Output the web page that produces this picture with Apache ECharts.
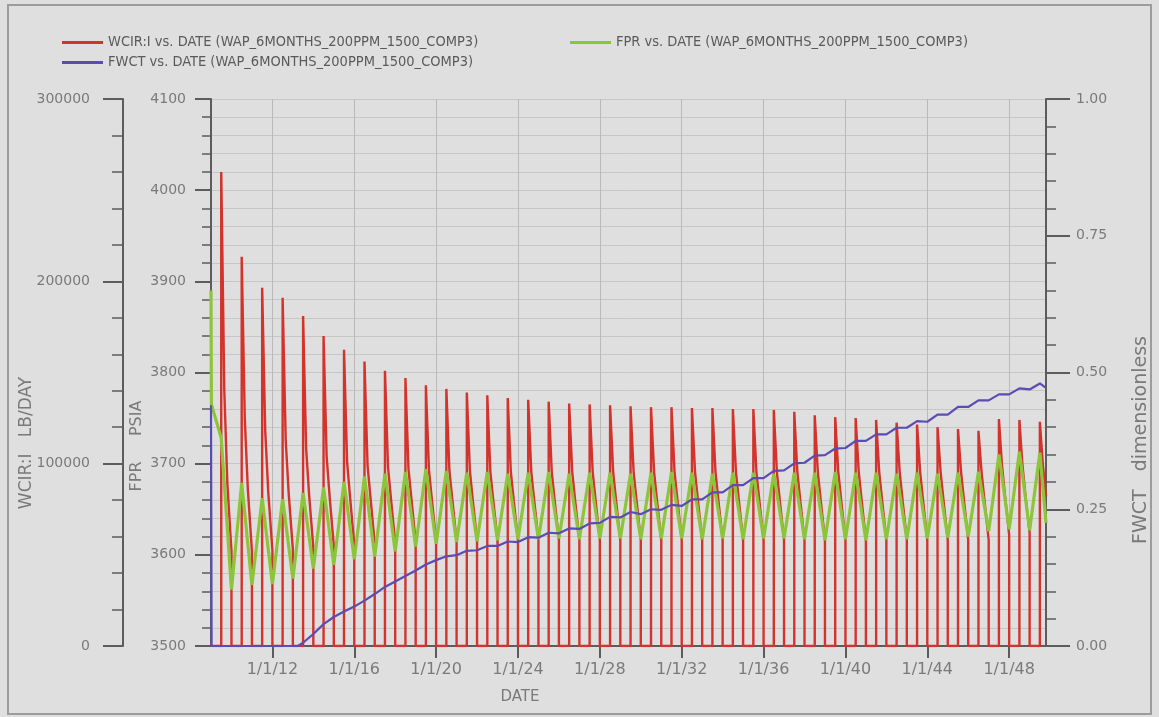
<!DOCTYPE html>
<html>
<head>
<meta charset="utf-8">
<script src="https://cdn.jsdelivr.net/npm/echarts@6/dist/echarts.min.js"></script>
<style>
html,body{margin:0;padding:0;background:#dfdfdf;}
#chart{width:1159px;height:717px;}
</style>
</head>
<body>
<div id="chart"></div>
<script>
// ---- data ----
const cycleYears = [2009,2010,2011,2012,2013,2014,2015,2016,2017,2018,2019,2020,2021,2022,2023,2024,2025,2026,2027,2028,2029,2030,2031,2032,2033,2034,2035,2036,2037,2038,2039,2040,2041,2042,2043,2044,2045,2046,2047,2048,2049];
const xEnd = 2049.8;

// WCIR:I (lb/day): at injection start (peak), 0.15 yr in, 0.3 yr in, and at shut-in (or at the end of the record)
const wcirPeak = [260000,213500,196500,191000,181000,170000,162500,156000,151000,147000,143000,141000,139000,137500,136000,135000,134000,133000,132500,132000,131500,131000,131000,130500,130500,130000,130000,129500,128500,126500,125500,125000,124000,122500,121500,120000,119000,118000,124500,124000,123000];
const wcirMid  = [140000,125000,118000,113000,108000,104000,101000,99000,98000,97000,96500,96000,96000,95500,95500,95500,95500,95500,95500,95500,95500,95500,95500,95500,95500,95500,95500,95500,95500,95500,95500,95500,95500,95500,95500,95500,95500,95500,99000,99000,99000];
const wcirKnee = [89000,86000,84000,83000,82000,81500,81000,80500,80000,80000,79500,79500,79000,79000,79000,79000,79000,79000,79000,79000,79000,79000,79000,79000,79000,79000,79000,79000,79000,79000,79000,79000,79000,79000,79000,79000,79000,79000,82000,82000,82000];
const wcirEnd  = [52000,52000,52500,53000,54000,55000,55500,56000,56500,57000,57500,57500,58000,58000,58000,58000,58000,58000,58000,58000,58000,58000,58000,58000,58000,58000,58000,58000,58000,58000,58000,58000,58000,58000,58000,58000,58000,58000,61000,62000,82000];

// FPR (psia)
const fprStart = [3890, 3765];
const fprPeak = [3728,3679,3662,3661,3668,3674,3680,3686,3689,3691,3694,3692,3690,3691,3689,3690,3691,3689,3690,3690,3689,3690,3691,3690,3689,3690,3690,3689,3690,3690,3691,3690,3690,3689,3690,3689,3690,3691,3710,3713,3712];
const fprTrough = [3562,3567,3568,3574,3585,3589,3595,3598,3604,3609,3612,3614,3615,3616,3617,3617,3618,3617,3618,3618,3617,3618,3618,3617,3618,3617,3618,3618,3617,3616,3617,3616,3617,3617,3618,3619,3620,3626,3628,3627];
const fprFinal = 3635;

// FWCT (dimensionless)
const fwctYears = [2009.0,2009.03,2013.25,2013.5,2014.0,2014.5,2015.0,2015.5,2016.0,2016.5,2017.0,2017.5,2018.0,2018.5,2019.0,2019.5,2020.0,2020.5,2021.0,2021.5,2022.0,2022.5,2023.0,2023.5,2024.0,2024.5,2025.0,2025.5,2026.0,2026.5,2027.0,2027.5,2028.0,2028.5,2029.0,2029.5,2030.0,2030.5,2031.0,2031.5,2032.0,2032.5,2033.0,2033.5,2034.0,2034.5,2035.0,2035.5,2036.0,2036.5,2037.0,2037.5,2038.0,2038.5,2039.0,2039.5,2040.0,2040.5,2041.0,2041.5,2042.0,2042.5,2043.0,2043.5,2044.0,2044.5,2045.0,2045.5,2046.0,2046.5,2047.0,2047.5,2048.0,2048.5,2049.0,2049.5,2049.8];
const fwctValues = [0.44,0,0,0.006,0.022,0.040,0.053,0.063,0.072,0.083,0.095,0.108,0.118,0.128,0.138,0.149,0.157,0.164,0.166,0.174,0.175,0.183,0.183,0.191,0.190,0.199,0.198,0.207,0.206,0.215,0.214,0.224,0.225,0.236,0.235,0.245,0.241,0.250,0.249,0.258,0.256,0.268,0.268,0.281,0.281,0.294,0.294,0.307,0.307,0.320,0.321,0.334,0.335,0.348,0.349,0.361,0.362,0.375,0.375,0.387,0.387,0.399,0.399,0.411,0.410,0.423,0.423,0.437,0.437,0.449,0.449,0.460,0.460,0.471,0.469,0.480,0.472];

const xTickYears = [2012,2016,2020,2024,2028,2032,2036,2040,2044,2048];
const xTickLabels = ['1/1/12','1/1/16','1/1/20','1/1/24','1/1/28','1/1/32','1/1/36','1/1/40','1/1/44','1/1/48'];

const nameW = 'WCIR:I vs. DATE (WAP_6MONTHS_200PPM_1500_COMP3)';
const nameF = 'FPR vs. DATE (WAP_6MONTHS_200PPM_1500_COMP3)';
const nameB = 'FWCT vs. DATE (WAP_6MONTHS_200PPM_1500_COMP3)';

// ---- build series from the arrays (6-month on / 6-month off schedule) ----
const redData = [[2009.0, 0]];
cycleYears.forEach((y, i) => {
  const on = y + 0.5, off = y + 1.0;
  redData.push([on, 0], [on, wcirPeak[i]], [on + 0.15, wcirMid[i]]);
  if (on + 0.3 < xEnd) redData.push([on + 0.3, wcirKnee[i]]);
  if (off <= xEnd) redData.push([off, wcirEnd[i]], [off, 0]);
  else redData.push([xEnd, wcirEnd[i]]);
});

const greenData = [[2009.0, fprStart[0]], [2009.02, fprStart[1]]];
cycleYears.forEach((y, i) => {
  greenData.push([y + 0.5, fprPeak[i]]);
  if (i < fprTrough.length) greenData.push([y + 1.0, fprTrough[i]]);
});
greenData.push([xEnd, fprFinal]);

const blueData = fwctYears.map((t, i) => [t, fwctValues[i]]);

// ---- styles ----
const axisColor = '#5c5c5c';
const labelColor = '#7a7a7a';
const gridColor = '#c6c6c6';
const labelFont = 'DejaVu Sans';
const legendText = {fontFamily: "'DejaVu Sans Condensed', 'Liberation Sans', sans-serif", fontSize: 14.5, color: '#5a5a5a'};

const chart = echarts.init(document.getElementById('chart'), null, {renderer: 'canvas'});
const legendBase = {
  orient: 'horizontal', itemWidth: 41, itemHeight: 3, icon: 'rect',
  padding: 0, selectedMode: false, textStyle: legendText, itemGap: 10
};

chart.setOption({
  backgroundColor: '#dfdfdf',
  animation: false,
  legend: [
    Object.assign({}, legendBase, {data: [nameW], left: 62, top: 35}),
    Object.assign({}, legendBase, {data: [nameF], left: 570, top: 35}),
    Object.assign({}, legendBase, {data: [nameB], left: 62, top: 55})
  ],
  grid: {left: 211, right: 113, top: 99, bottom: 71, containLabel: false},
  xAxis: {
    type: 'value', min: 2009, max: xEnd,
    axisLine: {show: true, onZero: false, lineStyle: {color: axisColor, width: 2}},
    axisTick: {show: true, customValues: xTickYears, length: 12, lineStyle: {color: axisColor, width: 2}},
    axisLabel: {
      customValues: xTickYears, margin: 16, fontSize: 16, fontFamily: labelFont, color: labelColor,
      formatter: v => xTickLabels[xTickYears.indexOf(v)]
    },
    splitLine: {show: true, lineStyle: {color: '#b9b9b9', width: 1}}
  },
  yAxis: [
    {
      type: 'value', position: 'left', offset: 88, min: 0, max: 300000, interval: 100000,
      axisLine: {show: true, lineStyle: {color: axisColor, width: 2}},
      axisTick: {show: true, length: 20, lineStyle: {color: axisColor, width: 2}},
      minorTick: {show: true, splitNumber: 5, length: 11, lineStyle: {color: axisColor, width: 1.5}},
      axisLabel: {margin: 33, fontSize: 14, fontFamily: labelFont, color: labelColor, formatter: v => String(v)},
      splitLine: {show: false}
    },
    {
      type: 'value', position: 'left', offset: 0, min: 3500, max: 4100, interval: 100,
      axisLine: {show: true, lineStyle: {color: axisColor, width: 2}},
      axisTick: {show: true, length: 16, lineStyle: {color: axisColor, width: 2}},
      minorTick: {show: true, splitNumber: 5, length: 9, lineStyle: {color: axisColor, width: 1.5}},
      axisLabel: {margin: 25, fontSize: 14, fontFamily: labelFont, color: labelColor, formatter: v => String(v)},
      splitLine: {show: true, lineStyle: {color: gridColor, width: 1}},
      minorSplitLine: {show: true, lineStyle: {color: gridColor, width: 1}}
    },
    {
      type: 'value', position: 'right', offset: 0, min: 0, max: 1, interval: 0.25,
      axisLine: {show: true, lineStyle: {color: axisColor, width: 2}},
      axisTick: {show: true, length: 24, lineStyle: {color: axisColor, width: 2}},
      minorTick: {show: true, splitNumber: 5, length: 10, lineStyle: {color: axisColor, width: 1.5}},
      axisLabel: {margin: 30, fontSize: 14, fontFamily: labelFont, color: labelColor, formatter: v => v.toFixed(2)},
      splitLine: {show: false}
    }
  ],
  series: [
    {
      name: nameW, type: 'line', xAxisIndex: 0, yAxisIndex: 0, data: redData,
      showSymbol: false, symbol: 'none', z: 2,
      itemStyle: {color: '#d2332d'}, lineStyle: {color: '#d2332d', width: 2.4}
    },
    {
      name: nameF, type: 'line', xAxisIndex: 0, yAxisIndex: 1, data: greenData,
      showSymbol: false, symbol: 'none', z: 3,
      itemStyle: {color: '#8dc43c'}, lineStyle: {color: '#8dc43c', width: 3.2}
    },
    {
      name: nameB, type: 'line', xAxisIndex: 0, yAxisIndex: 2, data: blueData,
      showSymbol: false, symbol: 'none', z: 4,
      itemStyle: {color: '#5a4cb2'}, lineStyle: {color: '#5a4cb2', width: 2.2}
    }
  ],
  graphic: [
    {type: 'rect', silent: true, shape: {x: 8, y: 5, width: 1143, height: 709},
     style: {fill: 'none', stroke: '#9c9c9c', lineWidth: 2}},
    {type: 'text', x: 27, y: 443, rotation: Math.PI / 2, silent: true,
     style: {text: 'WCIR:I   LB/DAY', fontSize: 17, fontFamily: labelFont, fill: labelColor,
             align: 'center', verticalAlign: 'middle', textAlign: 'center', textVerticalAlign: 'middle'}},
    {type: 'text', x: 137, y: 446, rotation: Math.PI / 2, silent: true,
     style: {text: 'FPR     PSIA', fontSize: 16, fontFamily: labelFont, fill: labelColor,
             align: 'center', verticalAlign: 'middle', textAlign: 'center', textVerticalAlign: 'middle'}},
    {type: 'text', x: 1141, y: 440, rotation: Math.PI / 2, silent: true,
     style: {text: 'FWCT   dimensionless', fontSize: 19, fontFamily: labelFont, fill: labelColor,
             align: 'center', verticalAlign: 'middle', textAlign: 'center', textVerticalAlign: 'middle'}},
    {type: 'text', x: 520, y: 697, silent: true,
     style: {text: 'DATE', fontSize: 15, fontFamily: labelFont, fill: labelColor,
             align: 'center', verticalAlign: 'middle', textAlign: 'center', textVerticalAlign: 'middle'}}
  ]
});
</script>
</body>
</html>
